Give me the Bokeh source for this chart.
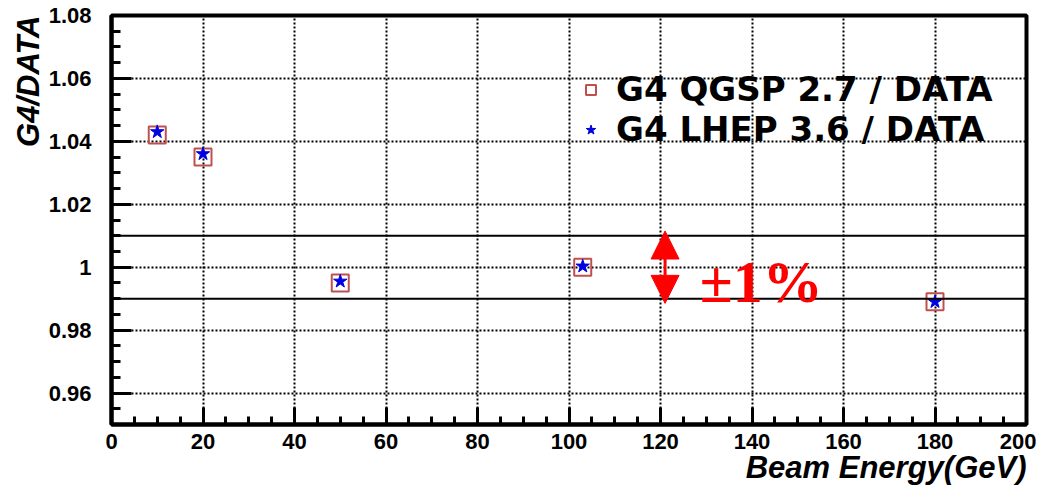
from bokeh.plotting import figure
from bokeh.models import (FixedTicker, CustomJSTickFormatter, Span, Arrow, NormalHead,
                          Label, Legend, LegendItem, Title, ColumnDataSource)
from bokeh.embed import file_html
from bokeh.resources import INLINE

# ---- data ----
energy = [10, 20, 50, 103, 180]
qgsp_ratio = [1.042, 1.035, 0.995, 1.000, 0.989]
lhep_ratio = [1.043, 1.036, 0.9955, 1.0003, 0.989]
band = [0.99, 1.01]
x_ticks = [0, 20, 40, 60, 80, 100, 120, 140, 160, 180, 200]
y_ticks = [0.96, 0.98, 1.00, 1.02, 1.04, 1.06, 1.08]
arrow_x = 121
label_qgsp = "G4 QGSP 2.7 / DATA"
label_lhep = "G4 LHEP 3.6 / DATA"

FONT = "Liberation Sans"
W, H = 1036, 485
BL, BR, BT, BB = 111, 10, 15, 61

p = figure(width=W, height=H, x_range=(0, 200), y_range=(0.95, 1.08),
           output_backend="svg", toolbar_location=None, title=None,
           min_border_left=BL, min_border_right=BR, min_border_top=BT, min_border_bottom=BB)
p.background_fill_color = "white"
p.border_fill_color = "white"
p.outline_line_color = "black"
p.outline_line_width = 4

# axes
x_minor = [v * 5 for v in range(0, 41)]
y_minor = [round(0.95 + 0.005 * i, 4) for i in range(0, 27)]
p.xaxis.ticker = FixedTicker(ticks=x_ticks, minor_ticks=x_minor)
p.yaxis.ticker = FixedTicker(ticks=y_ticks, minor_ticks=y_minor)
p.yaxis.formatter = CustomJSTickFormatter(code="return Math.abs(tick-1)<1e-9 ? '1' : tick.toFixed(2);")

for ax in (p.xaxis, p.yaxis):
    ax.axis_line_width = 4
    ax.axis_line_color = "black"
    ax.major_tick_out = 0
    ax.minor_tick_out = 0
    ax.major_tick_line_width = 3
    ax.minor_tick_line_width = 3
    ax.major_tick_line_color = "black"
    ax.minor_tick_line_color = "black"
    ax.major_label_text_font = FONT
    ax.major_label_text_font_style = "bold"
    ax.major_label_text_font_size = "22px"
    ax.major_label_text_color = "black"
p.xaxis.major_tick_in = 17
p.xaxis.minor_tick_in = 8
p.yaxis.major_tick_in = 20
p.yaxis.minor_tick_in = 9
p.xaxis.major_label_standoff = 9
p.yaxis.major_label_standoff = 20

# grid
for g in (p.xgrid, p.ygrid):
    g.grid_line_color = "black"
    g.grid_line_dash = "2 2"
    g.grid_line_width = 2
p.xgrid.ticker = FixedTicker(ticks=x_ticks)
p.ygrid.ticker = FixedTicker(ticks=y_ticks)

# axis titles
p.add_layout(Title(text="G4/DATA", align="right", text_font=FONT, text_font_style="bold italic",
                   text_font_size="31px", text_color="black", standoff=0), "left")
p.add_layout(Title(text="Beam Energy(GeV)", align="right", text_font=FONT, text_font_style="bold italic",
                   text_font_size="31px", text_color="black", standoff=-7), "below")

# +-1% band lines
for b in band:
    p.add_layout(Span(location=b, dimension="width", line_color="black", line_width=2))

src = ColumnDataSource(dict(x=energy, q=qgsp_ratio, l=lhep_ratio))
sq = p.scatter("x", "q", source=src, marker="square", size=17, fill_color=None,
               line_color="#c0504d", line_width=2)
st = p.scatter("x", "l", source=src, marker="star", size=14, fill_color="#0000e0",
               line_color="#0000e0", line_width=1)

# arrow and label
mid = (band[0] + band[1]) / 2
for yend in (band[1] + 0.0015, band[0] - 0.0015):
    p.add_layout(Arrow(end=NormalHead(size=28, fill_color="red", line_color="red"),
                       x_start=arrow_x, y_start=mid, x_end=arrow_x, y_end=yend,
                       line_color="red", line_width=3))
p.add_layout(Label(x=128.6, y=0.9953, text="±1%", text_font="Liberation Serif",
                   text_font_style="bold", text_font_size="60px", text_color="red",
                   text_baseline="alphabetic"))

legend = Legend(items=[LegendItem(label=label_qgsp, renderers=[sq]),
                       LegendItem(label=label_lhep, renderers=[st])],
                location=(467, 275), padding=0, margin=0, spacing=0,
                glyph_width=25, glyph_height=25, label_standoff=13, label_height=40,
                label_text_font="DejaVu Sans", label_text_font_style="bold",
                label_text_font_size="34px", label_text_color="black",
                background_fill_alpha=0, border_line_alpha=0)
p.add_layout(legend)

open("out.html", "w").write(file_html(p, INLINE))
